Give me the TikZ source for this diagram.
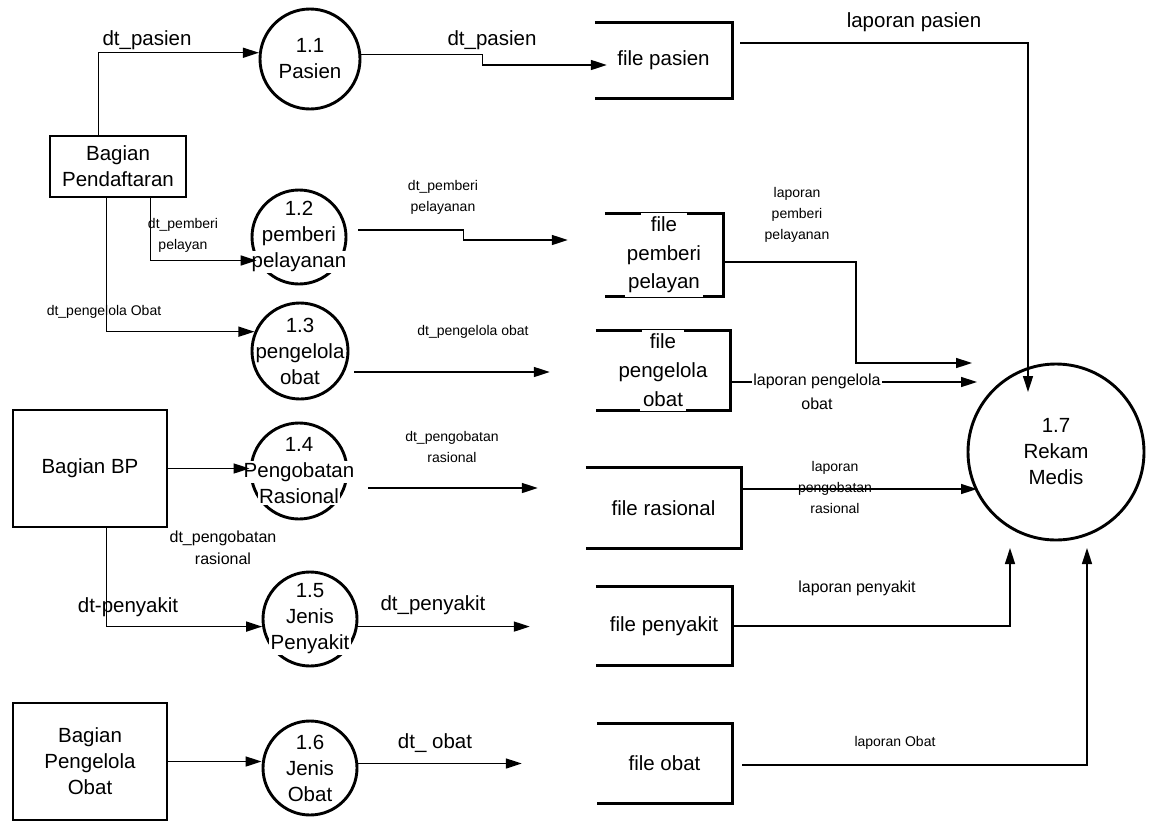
\documentclass[tikz,border=0pt]{standalone}
\usepackage{fontspec}
\setmainfont{Liberation Sans}
\usetikzlibrary{arrows.meta,calc,backgrounds}

\newcommand\dfdbig{\fontsize{20.5}{26}\selectfont}
\newcommand\dfdmid{\fontsize{16}{22}\selectfont}
\newcommand\dfdsmall{\fontsize{14}{21}\selectfont}
% white box behind a text line, hiding the outline underneath it
\newcommand\dfdwipe[1]{{\setlength\fboxsep{1.5pt}\colorbox{white}{#1}}}
\newcommand\dfdwipetall[1]{{\setlength\fboxsep{3.5pt}\colorbox{white}{#1}}}

\tikzset{
  entity/.style={draw, line width=2.9pt, inner sep=0pt, align=center, font=\dfdbig},
  proc/.style={draw, circle, line width=2.9pt, inner sep=0pt},
  ptext/.style={align=center, inner sep=0pt, font=\dfdbig},
  store/.style={inner sep=0pt, align=center, font=\dfdbig},
  storeline/.style={line width=2.9pt},
  flow/.style={line width=1.5pt, -{Triangle[length=16pt,width=10pt]}},
  biglbl/.style={inner sep=0pt, align=center, font=\dfdbig},
  midlbl/.style={inner sep=0pt, align=center, font=\dfdmid},
  smalllbl/.style={inner sep=0pt, align=center, font=\dfdsmall}
}

\begin{document}
\begin{tikzpicture}[x=1pt,y=-1pt]
\useasboundingbox (0,0) rectangle (1151,822);

% external entities
\node[entity, minimum width=136, minimum height=61] (pend) at (118,166.5) {Bagian\\Pendaftaran};
\node[entity, minimum width=154, minimum height=117] (bp) at (90,468.5) {Bagian BP};
\node[entity, minimum width=154, minimum height=117] (bpo) at (90,761.5) {Bagian\\Pengelola\\Obat};

% processes
\node[proc, minimum size=100] (p11) at (310,59) {};
\node[ptext] (t11) at (p11) {1.1\\Pasien};
\node[proc, minimum size=94] (p12) at (299,237) {};
\node[ptext] (t12) at (p12) {1.2\\pemberi\\\dfdwipe{pelayanan}};
\node[proc, minimum size=96] (p13) at (300,351) {};
\node[ptext] (t13) at (p13) {1.3\\pengelola\\obat};
\node[proc, minimum size=96] (p14) at (299,471) {};
\node[ptext] (t14) at (p14) {1.4\\\dfdwipe{Pengobatan}\\\dfdwipe{Rasional}};
\node[proc, minimum size=94] (p15) at (310,619) {};
\node[ptext] (t15) at (p15) {1.5\\Jenis\\\dfdwipe{Penyakit}};
\node[proc, minimum size=94] (p16) at (310,768) {};
\node[ptext] (t16) at (p16) {1.6\\Jenis\\Obat};
\node[proc, minimum size=176] (p17) at (1056,452) {};
\node[ptext] (t17) at (p17) {1.7\\Rekam\\Medis};

% data stores (open on the left)
\node[store, minimum width=137, minimum height=75] (fpas) at (663.5,60.5) {file pasien};
\node[store, minimum width=118, minimum height=76, font=\fontsize{20.5}{28.5}\selectfont] (fpem) at (664,255)
  {\dfdwipetall{\hspace{6pt}file\hspace{6pt}}\\pemberi\\\dfdwipetall{pelayan}};
\node[store, minimum width=134, minimum height=75, font=\fontsize{20.5}{29}\selectfont] (fpeng) at (663,370.5)
  {\dfdwipetall{\hspace{4pt}file\hspace{4pt}}\\pengelola\\\dfdwipetall{obat}};
\node[store, minimum width=155, minimum height=80] (fras) at (663.5,508) {file rasional};
\node[store, minimum width=136, minimum height=78] (fpen) at (664,626) {file penyakit};
\node[store, minimum width=135, minimum height=79] (fob) at (664.5,763.5) {file obat};

\begin{scope}[on background layer]
  \foreach \s in {fpas,fpem,fpeng,fras,fpen,fob}
    \draw[storeline] (\s.north west) -- (\s.north east) -- (\s.south east) -- (\s.south west);
\end{scope}

% flows
\draw[flow] ($(pend.north west)+(50,0)$) |- (p11.173);
\node[biglbl] (l1) at (147,40) {dt\_pasien};

\draw[flow] (p11.5) -- ++(121,0) |- ($(fpas.west)+(12,4.5)$);
\node[biglbl] (l2) at (492,40) {dt\_pasien};

\draw[flow] ($(fpas.north east)+(8,20)$) -| ($(p17.center)+(-28,-60)$);
\node[biglbl] (l3) at (914,22) {laporan pasien};

\draw[flow] ($(pend.south west)+(102,0)$) |- (p12.209);
\node[smalllbl] (l4) at (183,235) {dt\_pemberi\\pelayan};

\draw[flow] ($(pend.south west)+(58,0)$) |- (p13.157);
\node[smalllbl] (l5) at (104,312) {dt\_pengelola Obat};

\draw[flow] ($(p12.east)+(11,-7)$) -- ++(105,0) |- ($(fpem.west)+(-37,-15)$);
\node[smalllbl] (l6) at (443,197) {dt\_pemberi\\pelayanan};

\draw[flow] ($(p13.east)+(5,21)$) -- ($(fpeng.west)+(-46,1.5)$);
\node[smalllbl] (l7) at (473,332) {dt\_pengelola obat};

\draw[flow] ($(fpem.east)+(0,7)$) -| ($(p17.center)+(-200,-89)$) -- ($(p17.center)+(-84,-89)$);
\node[smalllbl] (l8) at (797,215) {laporan\\pemberi\\pelayanan};

\draw[flow] ($(fpeng.east)+(0,11.5)$) -- ($(p17.center)+(-79,-70)$);
\node[midlbl, fill=white, inner sep=1pt, font=\fontsize{16}{24}\selectfont] (l9) at (817,392) {laporan pengelola\\obat};

\draw[flow] ($(p14.east)+(20,17)$) -- ($(fras.west)+(-48,-20)$);
\node[smalllbl] (l10) at (452,447) {dt\_pengobatan\\rasional};

\draw[flow] ($(fras.east)+(0,-19)$) -- ($(p17.center)+(-79,37)$);
\node[smalllbl] (l11) at (835,487) {laporan\\pengobatan\\rasional};

\draw[flow] (bp.east) -- (bp.east -| p14.west);

\draw[flow] ($(bp.south west)+(95,0)$) |- (p15.189);
\node[biglbl] (l12) at (128,607) {dt-penyakit};
\node[midlbl] (l13) at (223,548) {dt\_pengobatan\\rasional};

\draw[flow] (p15.-9) -- ($(p15.-9 -| fpen.west)+(-66,0)$);
\node[biglbl] (l14) at (433,605) {dt\_penyakit};

\draw[flow] (fpen.east) -| ($(p17.center)+(-46,96)$);
\node[midlbl] (l15) at (857,588) {laporan penyakit};

\draw[flow] (bpo.east) -- (bpo.east -| p16.west);

\draw[flow] (p16.east |- fob.west) -- ($(fob.west)+(-75,0)$);
\node[biglbl] (l16) at (435,743) {dt\_ obat};

\draw[flow] ($(fob.east)+(10,1.5)$) -| ($(p17.center)+(31,96)$);
\node[smalllbl] (l17) at (895,743) {laporan Obat};

\end{tikzpicture}
\end{document}
